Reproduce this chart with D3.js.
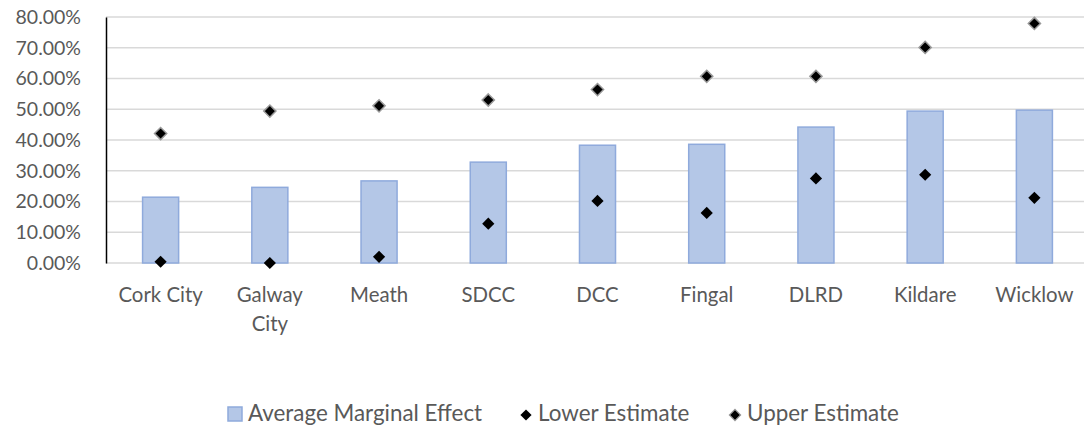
<!DOCTYPE html>
<html>
<head>
<meta charset="utf-8">
<script src="https://cdn.jsdelivr.net/npm/d3@7"></script>
<style>
  body { margin: 0; background: #fff; }
  svg { display: block; }
  text { font-family: Lato, "Open Sans", sans-serif; fill: #595959; }
</style>
</head>
<body>
<svg id="chart" width="1084" height="433"></svg>
<script>
// Council areas along the x axis
const categories = ["Cork City", "Galway City", "Meath", "SDCC", "DCC", "Fingal", "DLRD", "Kildare", "Wicklow"];
// Average marginal effect (bars), as fractions
const averageEffect = [0.214, 0.246, 0.267, 0.328, 0.383, 0.386, 0.442, 0.494, 0.497];
// Lower and upper estimates (diamond markers)
const lowerEstimate = [0.004, 0.000, 0.020, 0.128, 0.202, 0.163, 0.275, 0.287, 0.212];
const upperEstimate = [0.421, 0.494, 0.511, 0.530, 0.564, 0.607, 0.607, 0.701, 0.779];
// Y axis ticks
const yTicks = [0, 0.1, 0.2, 0.3, 0.4, 0.5, 0.6, 0.7, 0.8];

const svg = d3.select("#chart");
const plotLeft = 106, plotRight = 1089, plotTop = 17, plotBottom = 263;

const x = d3.scaleBand().domain(categories).range([plotLeft, plotRight]).paddingInner(0.67).paddingOuter(0.335);
const xc = d => x(d) + x.bandwidth() / 2;
const y = d3.scaleLinear().domain([0, 0.8]).range([plotBottom, plotTop]);

// gridlines
svg.append("g").selectAll("line").data(yTicks).join("line")
  .attr("x1", plotLeft).attr("x2", 1084)
  .attr("y1", d => y(d)).attr("y2", d => y(d))
  .attr("stroke", "#d9d9d9").attr("stroke-width", 1.5);

// y axis
const yAxis = svg.append("g").attr("transform", `translate(${plotLeft},0)`)
  .call(d3.axisLeft(y).tickValues(yTicks).tickFormat(d3.format(".2%")).tickSize(0).tickPadding(25));
yAxis.select(".domain").attr("stroke", "#000").attr("stroke-width", 1.5);
yAxis.selectAll("text").style("font-size", "19.5px").attr("fill", "#595959")
  .style("font-family", "Lato, 'Open Sans', sans-serif");

// bars
svg.append("g").selectAll("rect").data(categories).join("rect")
  .attr("x", d => x(d)).attr("width", x.bandwidth())
  .attr("y", (d, i) => y(averageEffect[i]))
  .attr("height", (d, i) => y(0) - y(averageEffect[i]))
  .attr("fill", "#b4c7e7").attr("stroke", "#8faadc").attr("stroke-width", 1.5);

const diamond = d3.symbol().type(d3.symbolDiamond2).size(95);

// upper estimates
svg.append("g").selectAll("path").data(categories).join("path")
  .attr("d", diamond)
  .attr("transform", (d, i) => `translate(${xc(d)},${y(upperEstimate[i])})`)
  .attr("fill", "#000").attr("stroke", "#9a9a9a").attr("stroke-width", 1.5);

// lower estimates
svg.append("g").selectAll("path").data(categories).join("path")
  .attr("d", diamond)
  .attr("transform", (d, i) => `translate(${xc(d)},${y(lowerEstimate[i])})`)
  .attr("fill", "#000");

// x labels (wrap two-word names that don't fit)
const xl = svg.append("g").selectAll("text").data(categories).join("text")
  .attr("x", d => xc(d)).attr("y", 302)
  .attr("text-anchor", "middle").style("font-size", "20.4px");
xl.each(function(d) {
  const t = d3.select(this);
  if (d === "Galway City") {
    t.append("tspan").attr("x", xc(d)).attr("dy", 0).text("Galway");
    t.append("tspan").attr("x", xc(d)).attr("dy", 29).text("City");
  } else {
    t.text(d);
  }
});

// legend
const lg = svg.append("g").style("font-size", "22.4px");
lg.append("rect").attr("x", 228).attr("y", 407).attr("width", 14).attr("height", 14)
  .attr("fill", "#b4c7e7").attr("stroke", "#8faadc").attr("stroke-width", 1.5);
lg.append("text").attr("x", 248).attr("y", 421).text("Average Marginal Effect");
const legendDiamond = d3.symbol().type(d3.symbolDiamond2).size(80);
lg.append("path").attr("d", legendDiamond)
  .attr("transform", "translate(526,415)").attr("fill", "#000");
lg.append("text").attr("x", 538).attr("y", 421).text("Lower Estimate");
lg.append("path").attr("d", legendDiamond)
  .attr("transform", "translate(735,415)").attr("fill", "#000").attr("stroke", "#9a9a9a").attr("stroke-width", 1.2);
lg.append("text").attr("x", 747).attr("y", 421).text("Upper Estimate");
</script>
</body>
</html>
